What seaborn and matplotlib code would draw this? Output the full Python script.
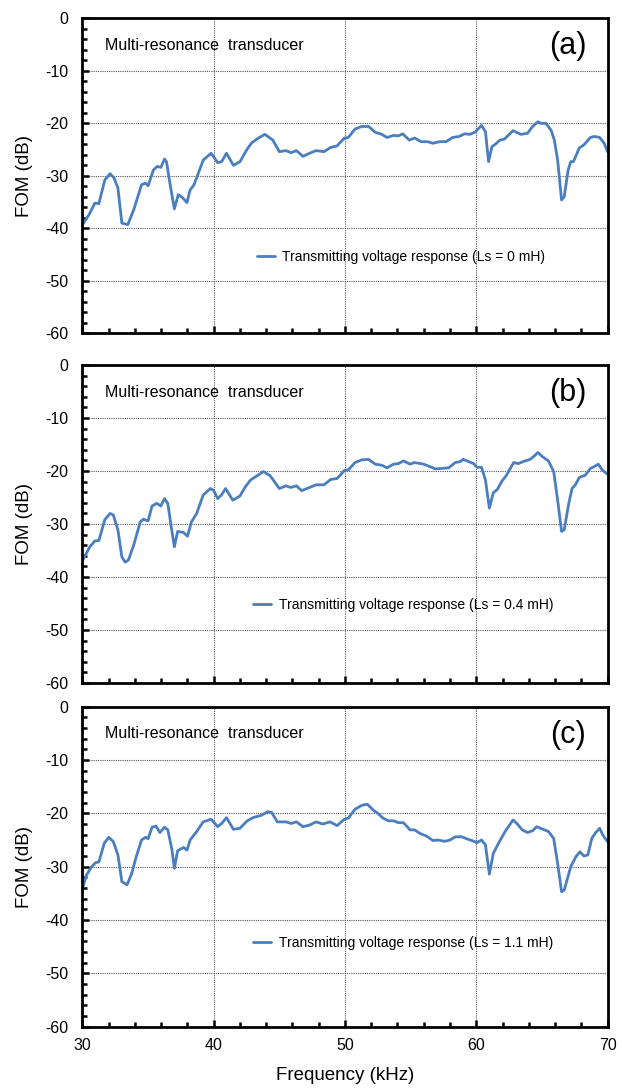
import numpy as np
import pandas as pd
import matplotlib
matplotlib.use("Agg")
import matplotlib.pyplot as plt
import seaborn as sns
from matplotlib.ticker import MultipleLocator

# Frequency (kHz) and figure of merit (dB) for each inductance setting
a_freq = [30.0, 30.5, 30.94, 31.25, 31.7, 32.1, 32.4, 32.7, 33.0, 33.45,
          33.9, 34.5, 34.8, 35.0, 35.4, 35.7, 35.97, 36.25, 36.4, 36.7,
          37.0, 37.3, 37.6, 37.96, 38.2, 38.5, 39.2, 39.8, 40.3, 40.6,
          40.97, 41.5, 42.0, 42.55, 42.9, 43.4, 43.9, 44.5, 45.0, 45.5,
          45.9, 46.3, 46.8, 47.3, 47.8, 48.4, 48.9, 49.4, 49.95, 50.25,
          50.76, 51.27, 51.8, 52.3, 52.8, 53.2, 53.7, 54.05, 54.4, 54.9,
          55.3, 55.8, 56.3, 56.7, 57.2, 57.7, 58.2, 58.7, 59.1, 59.5,
          59.9, 60.4, 60.7, 60.94, 61.2, 61.4, 61.8, 62.15, 62.8, 63.4,
          63.9, 64.3, 64.7, 64.9, 65.3, 65.7, 65.95, 66.2, 66.5, 66.7,
          67.0, 67.2, 67.4, 67.85, 68.2, 68.7, 69.0, 69.4, 69.75, 70.0]
a_fom = [-39.3, -37.4, -35.2, -35.3, -30.8, -29.6, -30.4, -32.3, -39.0, -39.3,
         -36.5, -31.7, -31.4, -31.9, -28.9, -28.2, -28.4, -26.8, -27.3, -32.0,
         -36.3, -33.6, -34.1, -35.1, -32.7, -31.7, -27.0, -25.7, -27.5, -27.3,
         -25.7, -28.0, -27.3, -24.9, -23.7, -22.8, -22.1, -23.2, -25.4, -25.2,
         -25.6, -25.2, -26.3, -25.7, -25.2, -25.4, -24.6, -24.3, -22.8, -22.7,
         -21.1, -20.6, -20.6, -21.7, -22.1, -22.7, -22.3, -22.4, -22.0, -23.2,
         -22.8, -23.5, -23.5, -23.8, -23.5, -23.5, -22.7, -22.5, -22.0, -22.1,
         -21.7, -20.4, -21.6, -27.3, -24.4, -24.1, -23.2, -23.0, -21.4, -22.1,
         -21.9, -20.6, -19.7, -20.0, -20.0, -21.3, -23.2, -27.0, -34.6, -34.0,
         -28.9, -27.3, -27.3, -24.7, -24.1, -22.7, -22.5, -22.7, -23.8, -25.4]

b_freq = [30.0, 30.56, 30.94, 31.25, 31.7, 32.1, 32.35, 32.7, 33.0, 33.25,
          33.5, 33.9, 34.4, 34.64, 35.0, 35.3, 35.66, 35.97, 36.25, 36.5,
          36.76, 37.0, 37.25, 37.7, 38.0, 38.3, 38.7, 39.2, 39.75, 40.0,
          40.3, 40.6, 40.9, 41.45, 42.0, 42.4, 42.8, 43.3, 43.8, 44.3,
          45.0, 45.5, 45.87, 46.3, 46.7, 47.3, 47.8, 48.4, 48.9, 49.4,
          49.95, 50.25, 50.76, 51.27, 51.8, 52.3, 52.8, 53.2, 53.7, 54.07,
          54.45, 54.96, 55.3, 55.98, 56.5, 56.87, 57.4, 57.9, 58.4, 58.8,
          59.0, 59.4, 59.8, 60.05, 60.4, 60.7, 61.0, 61.3, 61.6, 61.96,
          62.3, 62.85, 63.2, 63.6, 64.1, 64.4, 64.7, 65.0, 65.5, 65.9,
          66.2, 66.5, 66.7, 67.05, 67.3, 67.55, 67.86, 68.3, 68.7, 68.96,
          69.3, 69.6, 70.0]
b_fom = [-36.9, -34.3, -33.2, -33.1, -29.2, -28.0, -28.3, -31.1, -36.2, -37.2,
         -36.8, -34.0, -29.6, -29.1, -29.4, -26.6, -26.1, -26.6, -25.2, -26.1,
         -30.5, -34.3, -31.4, -31.6, -32.3, -29.6, -28.0, -24.5, -23.3, -23.7,
         -25.2, -24.5, -23.3, -25.5, -24.7, -23.0, -21.7, -20.9, -20.1, -20.9,
         -23.3, -22.8, -23.1, -22.8, -23.7, -23.1, -22.6, -22.6, -21.6, -21.4,
         -19.9, -19.8, -18.4, -17.9, -17.8, -18.7, -18.9, -19.4, -18.7, -18.6,
         -18.1, -18.7, -18.4, -18.7, -19.2, -19.6, -19.5, -19.4, -18.4, -18.2,
         -17.8, -18.2, -18.6, -19.3, -19.3, -21.7, -27.0, -24.1, -23.5, -21.9,
         -20.8, -18.4, -18.6, -18.2, -17.8, -17.2, -16.5, -17.2, -18.1, -20.1,
         -25.5, -31.4, -31.1, -26.1, -23.3, -22.6, -21.2, -20.8, -19.5, -19.2,
         -18.7, -19.8, -20.6]

c_freq = [30.0, 30.3, 30.7, 31.0, 31.25, 31.66, 32.0, 32.35, 32.7, 33.0,
          33.4, 33.75, 34.1, 34.5, 34.8, 35.0, 35.3, 35.6, 35.9, 36.25,
          36.5, 36.8, 37.0, 37.25, 37.7, 37.96, 38.2, 38.7, 39.2, 39.8,
          40.3, 40.6, 40.97, 41.5, 42.0, 42.55, 43.05, 43.6, 44.1, 44.4,
          44.85, 45.5, 45.9, 46.3, 46.8, 47.3, 47.8, 48.3, 48.85, 49.4,
          49.95, 50.25, 50.76, 51.27, 51.7, 52.16, 52.5, 52.9, 53.3, 53.7,
          54.07, 54.45, 54.96, 55.3, 55.7, 56.2, 56.7, 57.1, 57.6, 58.0,
          58.4, 58.9, 59.3, 59.67, 60.05, 60.4, 60.7, 61.0, 61.3, 61.7,
          62.2, 62.8, 63.1, 63.5, 63.9, 64.3, 64.6, 65.0, 65.5, 65.9,
          66.2, 66.5, 66.7, 67.2, 67.6, 67.9, 68.2, 68.5, 68.8, 69.1,
          69.4, 69.65, 70.0]
c_fom = [-34.1, -31.6, -30.0, -29.25, -29.1, -25.6, -24.5, -25.3, -27.8, -32.8,
         -33.4, -31.25, -28.1, -25.0, -24.5, -24.75, -22.6, -22.4, -23.6, -22.6,
         -23.1, -26.6, -30.3, -27.0, -26.4, -26.9, -25.0, -23.4, -21.6, -21.1,
         -22.5, -21.9, -20.8, -23.0, -22.8, -21.4, -20.75, -20.4, -19.7, -19.8,
         -21.6, -21.6, -21.9, -21.6, -22.5, -22.2, -21.6, -22.0, -21.6, -22.3,
         -21.1, -20.9, -19.25, -18.5, -18.3, -19.4, -20.0, -20.9, -21.4, -21.4,
         -21.75, -21.75, -23.1, -23.1, -23.75, -24.25, -25.1, -25.0, -25.25, -25.0,
         -24.4, -24.4, -24.8, -25.1, -25.5, -25.0, -25.9, -31.4, -27.5, -25.6,
         -23.4, -21.25, -21.9, -23.1, -23.6, -23.25, -22.5, -22.9, -23.4, -24.7,
         -29.4, -34.7, -34.4, -30.0, -28.1, -27.2, -28.0, -27.8, -24.7, -23.6,
         -22.8, -24.1, -25.3]

panel_tags = ["(a)", "(b)", "(c)"]
inductances = ["0", "0.4", "1.1"]
title_text = "Multi-resonance  transducer"
x_label = "Frequency (kHz)"
y_label = "FOM (dB)"

sns.set_theme(style="white")
plt.rcParams["font.family"] = ["Liberation Sans", "DejaVu Sans"]
plt.rcParams["axes.unicode_minus"] = False
plt.rcParams["text.color"] = "black"
plt.rcParams["axes.labelcolor"] = "black"
plt.rcParams["xtick.color"] = "black"
plt.rcParams["ytick.color"] = "black"

LINE_COLOR = "#4a7ebf"

fig = plt.figure(figsize=(6.22, 10.89), dpi=100)
left, width = 0.1326, 0.8441
rects = [(left, 0.6939, width, 0.2893),
         (left, 0.3728, width, 0.2920),
         (left, 0.0572, width, 0.2939)]
legend_anchor = [(0.332, 0.242), (0.325, 0.245), (0.325, 0.261)]

series = [(a_freq, a_fom), (b_freq, b_fom), (c_freq, c_fom)]

for i, ((freq, fom), rect) in enumerate(zip(series, rects)):
    ax = fig.add_axes(rect)
    df = pd.DataFrame({"freq": freq, "fom": fom})
    sns.lineplot(data=df, x="freq", y="fom", ax=ax, color=LINE_COLOR,
                 linewidth=2.0, estimator=None, sort=False,
                 label=f"Transmitting voltage response (Ls = {inductances[i]} mH)")

    ax.set_xlim(30, 70)
    ax.set_ylim(-60, 0)
    ax.xaxis.set_major_locator(MultipleLocator(10))
    ax.xaxis.set_minor_locator(MultipleLocator(2))
    ax.yaxis.set_major_locator(MultipleLocator(10))
    ax.yaxis.set_minor_locator(MultipleLocator(2))
    ax.grid(True, which="major", linestyle=(0, (1, 1)), color="#555555",
            linewidth=0.8)
    ax.grid(False, which="minor")
    ax.tick_params(which="both", bottom=True, left=True, top=False,
                   right=False, direction="in", color="black", width=1.8)
    ax.tick_params(which="major", length=5, labelsize=11.5, pad=8,
                   labelcolor="black")
    ax.tick_params(which="minor", length=3.5)
    ax.tick_params(axis="y", which="major", pad=10)
    for sp in ax.spines.values():
        sp.set_color("black")
        sp.set_linewidth(2.0)

    ax.set_ylabel(y_label, fontsize=13.5, color="black")
    ax.yaxis.set_label_coords(-0.095, 0.5)
    if i < 2:
        ax.set_xlabel("")
        ax.tick_params(axis="x", labelbottom=False)
    else:
        ax.set_xlabel(x_label, fontsize=13.5, labelpad=10, color="black")

    ax.text(0.043, 0.915, title_text, transform=ax.transAxes,
            fontsize=11.5, ha="left", va="center", color="black")
    ax.text(0.925, 0.912, panel_tags[i], transform=ax.transAxes,
            fontsize=22, ha="center", va="center", color="black")

    leg = ax.legend(loc="center left", bbox_to_anchor=legend_anchor[i],
                    frameon=False, fontsize=10, handlelength=1.3,
                    handletextpad=0.55, borderpad=0, borderaxespad=0)
    for t in leg.get_texts():
        t.set_color("black")

fig.savefig("out.png", dpi=100)
